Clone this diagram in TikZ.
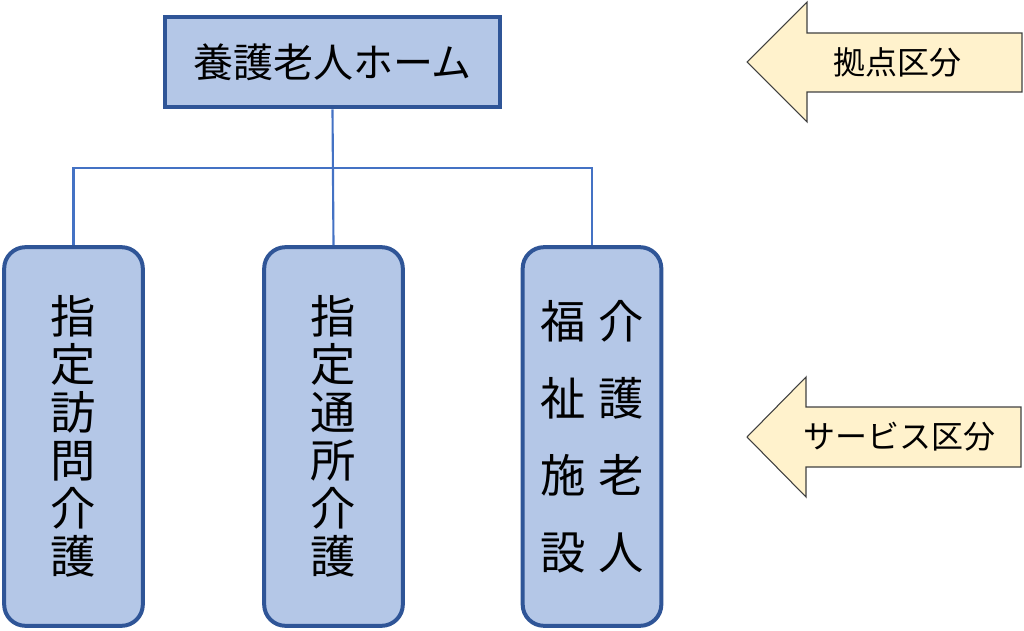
\documentclass[tikz,border=0pt]{standalone}
\usepackage{fontspec}
\setmainfont{Noto Sans CJK JP}
\definecolor{unitfill}{HTML}{B4C7E7}
\definecolor{unitline}{HTML}{2F5597}
\definecolor{linkline}{HTML}{4472C4}
\definecolor{tagfill}{HTML}{FFF2CC}
\definecolor{tagline}{HTML}{404040}
\begin{document}
\begin{tikzpicture}[x=0.75pt,y=-0.75pt,
    unit/.style={draw=unitline,line width=3pt,fill=unitfill,inner sep=0pt},
    service/.style={unit,rounded corners=16pt,minimum width=104pt,minimum height=284pt,
      align=center,font=\fontsize{34}{36}\selectfont},
    link/.style={draw=linkline,line width=1.6pt},
    tag/.style={draw=tagline,line width=0.8pt,fill=tagfill}]
  \useasboundingbox (0,0) rectangle (1024,631);

  \node[unit,minimum width=251pt,minimum height=68pt,font=\fontsize{30}{36}\selectfont]
    (home) at (332.5,62) {養護老人ホーム};

  \node[service] (visit) at (73.5,436.5) {指\\定\\訪\\問\\介\\護};
  \node[service] (day) at (333.5,436.5) {指\\定\\通\\所\\介\\護};
  \node[service,font=\fontsize{34}{57.75}\selectfont] (facility) at (592,436.5)
    {福\hspace{10pt}介\\祉\hspace{10pt}護\\施\hspace{10pt}老\\設\hspace{10pt}人};

  % tree
  \coordinate (bus) at (332.5,168);
  \draw[link] (home.south) -- (day.north);
  \draw[link] (visit.north) |- (bus) -| (facility.north);

  % block arrows
  \draw[tag] (747,62) -- (807,2) -- (807,33) -- (1022,33) -- (1022,92) -- (807,92) -- (807,122) -- cycle;
  \node[font=\fontsize{24}{28}\selectfont] (base) at (897,62) {拠点区分};

  \draw[tag] (747,437) -- (806,377) -- (806,407) -- (1021,407) -- (1021,467) -- (806,467) -- (806,497) -- cycle;
  \node[font=\fontsize{24}{28}\selectfont] (kind) at (899,437) {サービス区分};
\end{tikzpicture}
\end{document}
